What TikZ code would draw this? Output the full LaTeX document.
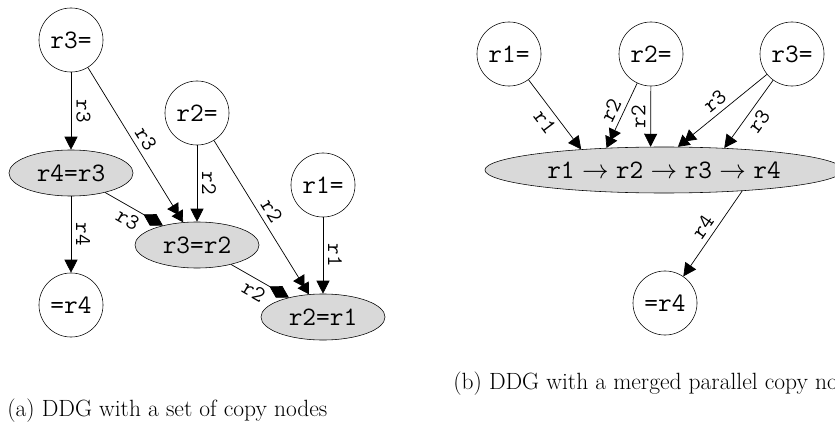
\documentclass[tikz,border=0pt]{standalone}
\usepackage{fix-cm}
\usetikzlibrary{arrows.meta, shapes.geometric}

\definecolor{CopyGray}{gray}{0.85}

\begin{document}
\begin{tikzpicture}
	[x=0.715pt, y=-0.715pt,
	 RegNode/.style={circle, draw, minimum size=45.8pt, inner sep=0pt, font=\ttfamily\fontsize{19}{21}\selectfont},			%Registers defined or used
	 CopyNode/.style={ellipse, draw, fill=CopyGray, minimum width=88.7pt, minimum height=32.9pt, inner sep=0pt, font=\ttfamily\fontsize{19}{21}\selectfont},	%Copy nodes
	 DepEdge/.style={-{Triangle[length=9.3pt, width=9.3pt]}, line width=0.5pt},			%Normal dependence
	 DoubleEdge/.style={-{Triangle[length=8pt, width=9.3pt, sep=-2pt]Triangle[length=8pt, width=9.3pt]}, line width=0.5pt},	%Two arrow tips
	 OrderEdge/.style={-{Diamond[length=16pt, width=9.5pt]}, line width=0.5pt},			%Order between copies
	 EdgeLabel/.style={sloped, font=\ttfamily\fontsize{16}{18}\selectfont, inner sep=3.5pt},
	 Caption/.style={anchor=base west, inner sep=0pt, font=\fontsize{16.8}{20}\selectfont}
	]
	
	\useasboundingbox (0,0) rectangle (835,431);	%Same size as the figure
	
	%(a) set of copies
	\node[RegNode] (r3a) at (71,40) {r3=};
	\node[RegNode] (r2a) at (197,113) {r2=};
	\node[RegNode] (r1a) at (323,185) {r1=};
	\node[RegNode] (r4a) at (71,305) {=r4};
	\node[CopyNode] (c43) at (71,173) {r4=r3};
	\node[CopyNode] (c32) at (197,245) {r3=r2};
	\node[CopyNode] (c21) at (323,317) {r2=r1};
	
	\draw[DepEdge] (r3a) -- node[EdgeLabel, above]{r3} (c43);
	\draw[DoubleEdge] (r3a) -- node[EdgeLabel, above]{r3} (c32);
	\draw[DepEdge] (r2a) -- node[EdgeLabel, above]{r2} (c32);
	\draw[DoubleEdge] (r2a) -- node[EdgeLabel, above]{r2} (c21);
	\draw[DepEdge] (r1a) -- node[EdgeLabel, above]{r1} (c21);
	\draw[DepEdge] (c43) -- node[EdgeLabel, above]{r4} (r4a);
	\draw[OrderEdge] (c43) -- node[EdgeLabel, below]{r3} (c32);
	\draw[OrderEdge] (c32) -- node[EdgeLabel, below]{r2} (c21);
	
	%(b) one parallel copy
	\node[RegNode] (r1b) at (509,54) {r1=};
	\node[RegNode] (r2b) at (651,54) {r2=};
	\node[RegNode] (r3b) at (792,54) {r3=};
	\node[RegNode] (r4b) at (665,303) {=r4};
	\node[CopyNode, minimum width=256pt] (par) at (664,170) {r1$\;\rightarrow\;$r2$\;\rightarrow\;$r3$\;\rightarrow\;$r4};
	
	\draw[DepEdge] (r1b) -- node[EdgeLabel, below]{r1} (par.166);
	\draw[DoubleEdge] (r2b) -- node[EdgeLabel, above]{r2} (par.159);
	\draw[DepEdge] (r2b) -- node[EdgeLabel, above]{r2} (par.120);
	\draw[DoubleEdge] (r3b) -- node[EdgeLabel, above]{r3} (par.59);
	\draw[DepEdge] (r3b) -- node[EdgeLabel, below]{r3} (par.20);
	\draw[DepEdge] (par.-15) -- node[EdgeLabel, above]{r4} (r4b);
	
	%Captions
	\node[Caption] (capa) at (7,416) {(a) DDG with a set of copy nodes};
	\node[Caption] (capb) at (453,389) {(b) DDG with a merged parallel copy node};
	
\end{tikzpicture}
\end{document}
